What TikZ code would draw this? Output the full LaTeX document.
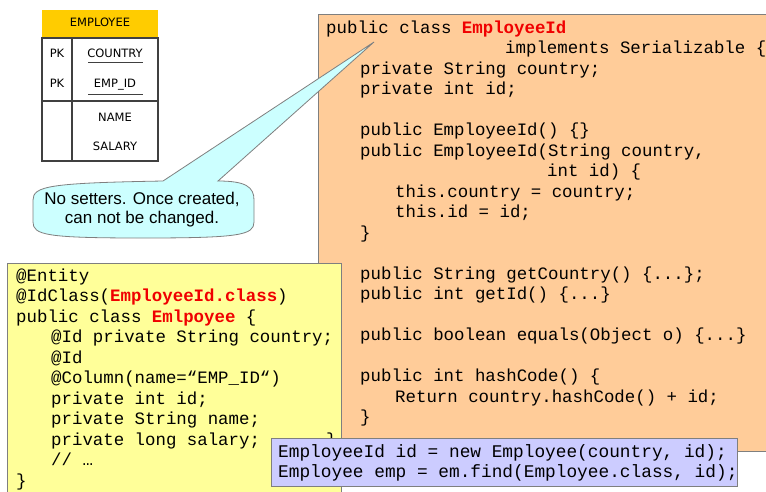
\documentclass[tikz,border=0pt]{standalone}
\usepackage{fontspec}
\usepackage{tikz}
\usetikzlibrary{calc}

\newfontfamily\codefont{Liberation Mono}
\newfontfamily\notefont{Liberation Sans}
\newfontfamily\tablefont{DejaVu Sans}

\definecolor{idorange}{HTML}{FFCC99}
\definecolor{entyellow}{HTML}{FFFF99}
\definecolor{findblue}{HTML}{CCCCFF}
\definecolor{notecyan}{HTML}{CCFFFF}
\definecolor{headgold}{HTML}{FFCC00}
\definecolor{boxgray}{HTML}{7F7F7F}
\definecolor{codered}{HTML}{F00000}

\newcommand{\idname}[1]{{\bfseries\color{codered}#1}}
\DeclareRobustCommand{\tdots}{...}

\begin{document}
\begin{tikzpicture}[
        x=1pt, y=-1pt,
        code/.style={anchor=base west, inner sep=0pt,
            font=\codefont\fontsize{17.4}{20.5}\selectfont},
        findcode/.style={anchor=base west, inner sep=0pt,
            font=\codefont\fontsize{17.8}{20}\selectfont},
        cell/.style={anchor=base, inner sep=0pt,
            font=\tablefont\fontsize{11.5}{13}\selectfont},
        codebox/.style={draw=boxgray, line width=0.8pt},
    ]

    \useasboundingbox (0,0) rectangle (766,491);

    % id class
    \fill[idorange, codebox] (318,14) rectangle (790,451);
    \foreach \x/\n/\t [count=\i] in {
            326/0/{public class \idname{EmployeeId}},
            505/1/{implements Serializable \{},
            360/2/{private String country;},
            360/3/{private int id;},
            360/5/{public EmployeeId() \{\}},
            360/6/{public EmployeeId(String country,},
            547/7/{int id) \{},
            395/8/{this.country = country;},
            395/9/{this.id = id;},
            360/10/{\}},
            360/12/{public String getCountry() \{\tdots\};},
            360/13/{public int getId() \{\tdots\}},
            360/15/{public boolean equals(Object o) \{\tdots\}},
            360/17/{public int hashCode() \{},
            395/18/{Return country.hashCode() + id;},
            360/19/{\}}}
        \node[code] (idline\i) at (\x, 33+\n*20.5) {\t};

    % callout
    \coordinate (tip) at (374,42);
    \draw[fill=notecyan, draw=boxgray, line width=0.8pt]
        (33,200) .. controls (33,186) and (50,183) .. (163,181) -- (tip) --
        (218,181) .. controls (246,181) and (254,187) .. (254,200) --
        (254,222) .. controls (254,235) and (240,238) .. (143,238)
        .. controls (46,238) and (33,235) .. (33,222) -- cycle;
    \node[align=center, inner sep=0pt,
          font=\notefont\fontsize{17}{19}\selectfont] (note) at (142,210)
        {No setters. Once created,\\can not be changed.};

    % table
    \fill[headgold] (42,10) rectangle (158,38);
    \draw[draw=black!75, line width=1.1pt] (42,38) rectangle (158,161);
    \draw[draw=black!75, line width=1.1pt] (42,101) -- (158,101);
    \draw[draw=black!75, line width=1.1pt] (72,38) -- (72,161);
    \draw[draw=black!75, line width=0.7pt] (88,62) -- (143,62);
    \draw[draw=black!75, line width=0.7pt] (88,94) -- (143,94);
    \node[cell] (head) at (100,26) {EMPLOYEE};
    \node[cell] (pk1) at (57,57) {PK};
    \node[cell] (pk2) at (57,87.5) {PK};
    \node[cell] (country) at (115,57) {COUNTRY};
    \node[cell] (empid) at (115,87.5) {EMP\_ID};
    \node[cell] (name) at (115,121) {NAME};
    \node[cell] (salary) at (115,150) {SALARY};

    % entity
    \fill[entyellow, codebox] (7,263) rectangle (341,500);
    \foreach \x/\n/\t [count=\i] in {
            16/0/{@Entity},
            16/1/{@IdClass(\idname{EmployeeId.class})},
            16/2/{public class \idname{Emlpoyee} \{},
            51/3/{@Id private String country;},
            51/4/{@Id},
            51/5/{@Column(name=“EMP\_ID“)},
            51/6/{private int id;},
            51/7/{private String name;},
            51/8/{private long salary;},
            51/9/{// …},
            16/10/{\}}}
        \node[code] (entline\i) at (\x, 281+\n*20.5) {\t};
    \node[code] (brace) at (326,445) {\}};

    % lookup
    \fill[findblue, codebox] (271,438) rectangle (737,486);
    \node[findcode] (find1) at (278,457) {EmployeeId id = new Employee(country, id);};
    \node[findcode] (find2) at (278,477) {Employee emp = em.find(Employee.class, id);};

\end{tikzpicture}
\end{document}
